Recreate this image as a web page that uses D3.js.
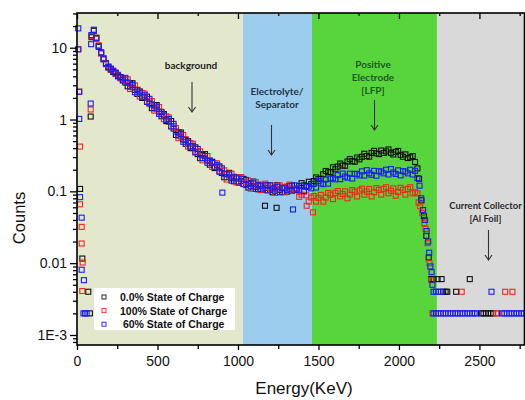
<!DOCTYPE html>
<html>
<head>
<meta charset="utf-8">
<script src="https://cdn.jsdelivr.net/npm/d3@7"></script>
<style>
  body { margin: 0; background: #fff; }
  svg { display: block; }
</style>
</head>
<body>
<svg id="chart" width="525" height="400"></svg>
<script>
// Channel energies (keV) shared by the three spectra
const energies = [90,105,120,135,150,165,180,195,210,225,240,255,270,285,300,315,330,345,360,375,390,405,420,435,450,465,480,495,510,525,540,555,570,585,600,615,630,645,660,675,690,705,720,735,750,765,780,795,810,825,840,855,870,885,900,915,930,945,960,975,990,1005,1020,1035,1050,1065,1080,1095,1110,1125,1140,1155,1170,1185,1200,1215,1230,1245,1260,1275,1290,1305,1320,1335,1350,1365,1380,1395,1410,1425,1440,1455,1470,1485,1500,1515,1530,1545,1560,1575,1590,1605,1620,1635,1650,1665,1680,1695,1710,1725,1740,1755,1770,1785,1800,1815,1830,1845,1860,1875,1890,1905,1920,1935,1950,1965,1980,1995,2010,2025,2040,2055,2070,2085,2100,2115];

// Counts per channel, 0.0% state of charge
const soc0 = [14.0,17.2,13.8,10.3,8.6,6.9,6.1,5.3,5.1,4.6,4.5,4.0,3.9,3.5,
  3.28,2.90,3.18,3.20,2.59,2.27,2.46,2.00,2.02,2.08,1.67,1.44,1.59,1.59,1.29,1.11,
  1.19,0.95,0.94,0.95,0.75,0.61,0.66,0.66,0.53,0.46,0.50,0.40,0.40,0.41,0.33,0.29,0.32,0.33,0.27,0.235,
  0.258,0.211,0.215,0.222,0.18,0.157,0.175,0.181,0.152,0.138,0.157,0.132,0.139,0.149,0.124,0.113,0.13,0.137,0.116,0.107,
  0.123,0.105,0.112,0.122,0.105,0.097,0.113,0.122,0.105,0.098,0.114,0.099,0.109,0.121,0.105,
  0.105,0.119,0.13,0.121,0.119,0.136,0.126,0.139,0.156,0.148,0.15,0.174,0.192,0.184,0.186,0.216,0.203,0.221,0.244,0.229,0.227,0.26,0.281,0.263,0.259,0.296,0.279,0.303,0.334,0.31,0.304,0.343,0.366,0.338,0.33,0.37,0.342,0.36,0.383,0.344,0.326,0.355,0.365,0.323,0.303,0.327,0.291,0.298,0.31,0.257,0.209];

// Counts per channel, 100% state of charge
const soc100 = [14.6,17.6,13.3,10.8,8.3,7.2,5.9,5.5,4.9,4.8,4.3,4.2,3.75,3.7,
  3.52,3.63,2.66,2.80,2.99,2.61,2.09,2.34,2.30,1.78,1.80,1.80,1.33,1.39,1.49,1.28,
  1.01,1.11,1.07,0.81,0.81,0.76,0.55,0.58,0.61,0.53,0.42,0.47,0.46,0.35,0.36,0.36,0.27,0.29,0.31,0.27,
  0.219,0.247,0.245,0.19,0.194,0.196,0.146,0.159,0.176,0.16,0.133,0.154,0.158,0.127,0.134,0.141,0.109,0.12,0.134,0.124,
  0.104,0.123,0.128,0.104,0.112,0.121,0.095,0.107,0.121,0.113,0.097,0.117,0.124,0.103,0.107,
  0.11,0.084,0.09,0.099,0.088,0.072,0.082,0.086,0.072,0.081,0.089,0.072,0.082,0.095,0.09,0.078,0.095,0.101,0.085,0.092,0.1,0.08,0.09,0.104,0.099,0.085,0.103,0.109,0.09,0.099,0.108,0.085,0.097,0.111,0.105,0.09,0.108,0.114,0.094,0.102,0.11,0.087,0.098,0.112,0.105,0.09,0.108,0.114,0.094,0.097,0.094];

// Counts per channel, 60% state of charge
const soc60 = [15.0,17.8,13.6,10.5,8.5,7.0,6.0,5.4,5.0,4.7,4.4,4.1,3.85,3.6,
  3.80,3.27,2.88,3.03,2.40,2.56,2.37,2.08,2.18,1.76,1.94,1.62,1.44,1.51,1.20,1.26,
  1.14,0.99,1.02,0.80,0.87,0.68,0.60,0.63,0.49,0.52,0.48,0.42,0.43,0.35,0.39,0.33,0.29,0.31,0.25,0.266,
  0.248,0.22,0.232,0.188,0.209,0.176,0.158,0.172,0.141,0.157,0.151,0.137,0.15,0.126,0.144,0.127,0.118,0.129,0.108,0.122,
  0.118,0.109,0.121,0.103,0.121,0.109,0.102,0.116,0.097,0.111,0.11,0.104,0.118,0.102,0.121,
  0.109,0.103,0.118,0.101,0.116,0.116,0.11,0.127,0.113,0.139,0.129,0.126,0.146,0.128,0.15,0.153,0.147,0.168,0.148,0.177,0.161,0.155,0.176,0.151,0.175,0.175,0.167,0.19,0.166,0.197,0.178,0.17,0.193,0.165,0.19,0.189,0.178,0.2,0.172,0.204,0.183,0.174,0.196,0.167,0.191,0.189,0.178,0.2,0.172,0.193,0.153];

// Isolated channels: low-energy noise, the falling edge and the sparse tail [keV, counts]
const soc0Extra = [[19,0.108],[33,0.0116],[70,0.004],[80,0.002],[85,1.1],[1168,0.063],[1240,0.059],
  [2125,0.15],[2140,0.075],[2155,0.045],[2170,0.024],[2185,0.012],[2200,0.006],
  [2215,0.006],[2240,0.006],[2265,0.006],[2440,0.006],
  [2275,0.004],[2290,0.004],[2300,0.004],[2355,0.004],
  [2510,0.002],[2525,0.002],[2540,0.002],[2555,0.002],[2570,0.002],[2585,0.002]];
const soc100Extra = [[8,9.5],[14,2.44],[19,0.42],[19,0.066],[29,0.032],[29,0.0188],[35,0.0102],[33,0.0041],[85,1.38],
  [1427,0.063],[1466,0.051],
  [2122,0.07],[2132,0.062],[2145,0.05],[2158,0.036],[2165,0.03],[2178,0.019],[2190,0.01],[2200,0.0058],
  [2208,0.002],[2605,0.002],[2615,0.002],[2390,0.004],[2660,0.004],[2705,0.004]];
const soc60Extra = [[8,18.6],[8,9.5],[14,2.44],[14,1.02],[19,0.083],[29,0.043],[29,0.0081],[43,0.0058],
  [40,0.002],[50,0.002],[60,0.002],[88,11.2],[85,1.67],[903,0.096],[1342,0.056],
  [2128,0.12],[2138,0.08],[2150,0.055],[2162,0.04],[2172,0.028],[2182,0.02],[2188,0.014],[2195,0.009],[2203,0.0075],[2208,0.005],
  [2215,0.004],[2230,0.004],[2245,0.004],[2260,0.004],[2575,0.004],
  [2215,0.002],[2230,0.002],[2245,0.002],[2260,0.002],[2275,0.002],[2290,0.002],[2305,0.002],[2320,0.002],[2335,0.002],[2350,0.002],
  [2365,0.002],[2380,0.002],[2395,0.002],[2410,0.002],[2425,0.002],[2440,0.002],[2455,0.002],[2470,0.002],[2485,0.002],
  [2640,0.002],[2655,0.002],[2670,0.002],[2685,0.002],[2700,0.002],[2715,0.002],[2730,0.002],[2745,0.002],[2760,0.002],[2775,0.002]];

// Depth regions (keV)
const regionNames = ["background", "electrolyte", "electrode", "collector"];
const regionStart = [0, 1031, 1460, 2236];
const regionEnd = [1031, 1460, 2236, 2780];

// Axis ticks
const xTicks = [0, 500, 1000, 1500, 2000, 2500];
const yTicks = [0.001, 0.01, 0.1, 1, 10];
const yTickLabels = ["1E-3", "0.01", "0.1", "1", "10"];

const seriesNames = ["0.0% State of Charge", "100% State of Charge", " 60% State of Charge"];

// ---- drawing ----
const regionColors = ["#e3e7cb", "#9ccdee", "#58d53c", "#d9d9d9"];
const seriesColors = ["#111111", "#f0281e", "#1c1cf5"];

const svg = d3.select("#chart");
const plotL = 77, plotR = 524.5, plotT = 13, plotB = 345;

const x = d3.scaleLinear().domain([0, 2780]).range([plotL, plotR]);
const y = d3.scaleLog().domain([7.255e-4, 30.43]).range([plotB, plotT]);

// region bands
svg.append("g").selectAll("rect").data(regionNames).join("rect")
  .attr("x", (d, i) => x(regionStart[i]))
  .attr("y", plotT)
  .attr("width", (d, i) => x(regionEnd[i]) - x(regionStart[i]))
  .attr("height", plotB - plotT)
  .attr("fill", (d, i) => regionColors[i]);

// annotations
const ann = svg.append("g").attr("font-family", "Lato, 'Open Sans', sans-serif")
  .attr("font-weight", "bold").attr("font-size", 10).attr("text-anchor", "middle");
function label(lines, cx, y0, color, dy, size) {
  lines.forEach((t, i) => ann.append("text").attr("x", cx).attr("y", y0 + i * dy)
    .attr("fill", color).attr("font-size", size || 10).text(t));
}
function arrow(cx, y1, y2) {
  const g = svg.append("g").attr("stroke", "#333").attr("stroke-width", 1.1).attr("fill", "none");
  g.append("line").attr("x1", cx).attr("x2", cx).attr("y1", y1).attr("y2", y2);
  g.append("path").attr("d", `M${cx - 3.5},${y2 - 5}L${cx},${y2}L${cx + 3.5},${y2 - 5}`);
}
label(["background"], 191, 69, "#1e1e1e", 13);
arrow(192, 82, 112);
label(["Electrolyte/", "Separator"], 277, 95, "#22344a", 13.3);
arrow(271.5, 125, 155);
label(["Positive", "Electrode", "[LFP]"], 373, 67.5, "#1b5a1e", 13.2);
arrow(374.5, 100, 130);
label(["Current Collector", "[Al Foil]"], 485.5, 208.5, "#2a2a2a", 13.3, 9.4);
arrow(488.5, 230, 260);

// data points
function drawSeries(vals, extra, color) {
  const pts = vals.map((v, i) => [energies[i], v]).concat(extra);
  svg.append("g").selectAll("rect").data(pts).join("rect")
    .attr("x", d => x(d[0]) - 2.5)
    .attr("y", d => y(d[1]) - 2.5)
    .attr("width", 5).attr("height", 5)
    .attr("fill", "none")
    .attr("stroke", color).attr("stroke-width", 1.1);
}
drawSeries(soc0, soc0Extra, seriesColors[0]);
drawSeries(soc100, soc100Extra, seriesColors[1]);
drawSeries(soc60, soc60Extra, seriesColors[2]);

// legend
const lg = svg.append("g");
lg.append("rect").attr("x", 94).attr("y", 288).attr("width", 141).attr("height", 42).attr("fill", "#fff");
seriesNames.forEach((name, i) => {
  const cy = 297 + i * 13.6;
  lg.append("rect").attr("x", 102).attr("y", cy - 2).attr("width", 4).attr("height", 4)
    .attr("fill", "none").attr("stroke", seriesColors[i]).attr("stroke-width", 0.9);
  lg.append("text").attr("x", 120).attr("y", cy + 4)
    .attr("font-family", "Arial, 'Liberation Sans', sans-serif").attr("font-size", 10.5)
    .attr("font-weight", "bold").attr("fill", "#111")
    .style("white-space", "pre").text(name);
});

// axes
const fontFam = "Arial, 'Liberation Sans', sans-serif";
const minorY = [];
for (let e = -4; e <= 1; e++) {
  for (let m = 2; m <= 9; m++) {
    const v = m * Math.pow(10, e);
    if (v > 7.255e-4 && v < 30.43) minorY.push(v);
  }
}
const minorX = [250, 750, 1250, 1750, 2250, 2750];

function styleAxis(g) {
  g.select(".domain").remove();
  g.selectAll("line").attr("stroke", "#000").attr("stroke-width", 1.3);
  g.selectAll("text").attr("font-family", fontFam).attr("font-size", 14).attr("fill", "#111");
}

svg.append("g").attr("transform", `translate(${plotL},0)`)
  .call(d3.axisLeft(y).tickValues(yTicks).tickFormat((d, i) => yTickLabels[i]).tickSize(7).tickPadding(3))
  .call(styleAxis);
svg.append("g").attr("transform", `translate(${plotL},0)`)
  .call(d3.axisLeft(y).tickValues(minorY).tickFormat("").tickSize(4))
  .call(styleAxis);
svg.append("g").attr("transform", `translate(${plotR},0)`)
  .call(d3.axisLeft(y).tickValues(yTicks).tickFormat("").tickSize(-5))
  .call(styleAxis);

svg.append("g").attr("transform", `translate(0,${plotB})`)
  .call(d3.axisBottom(x).tickValues(xTicks).tickFormat(d3.format("d")).tickSize(5).tickPadding(6))
  .call(styleAxis);
svg.append("g").attr("transform", `translate(0,${plotB})`)
  .call(d3.axisBottom(x).tickValues(minorX).tickFormat("").tickSize(4))
  .call(styleAxis);
svg.append("g").attr("transform", `translate(0,${plotT})`)
  .call(d3.axisTop(x).tickValues(xTicks).tickFormat("").tickSize(-6))
  .call(styleAxis);
svg.append("g").attr("transform", `translate(0,${plotT})`)
  .call(d3.axisTop(x).tickValues(minorX).tickFormat("").tickSize(-3))
  .call(styleAxis);

// frame
svg.append("rect").attr("x", plotL).attr("y", plotT).attr("width", plotR - plotL).attr("height", plotB - plotT)
  .attr("fill", "none").attr("stroke", "#000").attr("stroke-width", 1.6);

// axis titles
svg.append("text").attr("x", 304).attr("y", 394).attr("text-anchor", "middle")
  .attr("font-family", fontFam).attr("font-size", 17).attr("fill", "#111").text("Energy(KeV)");
svg.append("text").attr("transform", "translate(25,218) rotate(-90)").attr("text-anchor", "middle")
  .attr("font-family", fontFam).attr("font-size", 16.5).attr("fill", "#111").text("Counts");
</script>
</body>
</html>
